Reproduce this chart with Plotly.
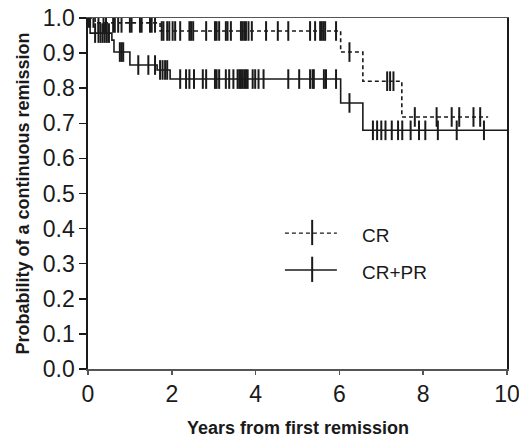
import plotly.graph_objects as go

# ---------------- data ----------------
# CR group (dashed curve)
cr_event_times = [0.17, 1.72, 6.03, 6.56, 7.49]
cr_surv = [0.986, 0.963, 0.903, 0.820, 0.718]
cr_end = 9.55
cr_censor = [0.05, 0.13, 0.25, 0.37, 0.43, 0.60, 0.64, 0.72, 0.80, 1.00, 1.04,
             1.24, 1.28, 1.48, 1.52, 1.60,
             1.76, 1.80, 1.89, 1.94, 2.02, 2.08, 2.20, 2.42, 2.46, 2.51, 2.82,
             3.03, 3.07, 3.13, 3.29, 3.33, 3.41, 3.65, 3.69, 3.73, 3.77, 3.83,
             3.91, 4.25, 4.53, 4.78, 5.30, 5.42, 5.54, 5.58, 5.62, 5.66, 5.92,
             6.24, 7.14, 7.21, 7.29, 7.80, 8.32, 8.68, 8.86, 9.20, 9.36]

# CR+PR group (solid curve)
crpr_event_times = [0.05, 0.57, 0.62, 1.00, 1.65, 1.96, 6.03, 6.56]
crpr_surv = [0.957, 0.937, 0.903, 0.866, 0.852, 0.826, 0.758, 0.680]
crpr_end = 10.0
crpr_censor = [0.02, 0.17, 0.25, 0.30, 0.35, 0.40, 0.45, 0.50,
               0.76, 0.80, 0.84, 1.20, 1.44, 1.60, 1.72, 1.78, 1.84, 1.89,
               2.20, 2.34, 2.42, 2.53, 2.74, 2.82, 3.03, 3.07, 3.13, 3.29,
               3.37, 3.47, 3.57, 3.61, 3.65, 3.69, 3.73, 3.77, 3.81, 3.93,
               3.99, 4.07, 4.19, 4.78, 5.04, 5.30, 5.36, 5.39, 5.63, 5.68,
               5.92, 6.24, 6.80, 6.90, 7.00, 7.10, 7.25, 7.40, 7.50, 7.70,
               7.90, 8.05, 8.35, 8.80, 9.45]

x_ticks = [0, 2, 4, 6, 8, 10]
y_ticks = [0.0, 0.1, 0.2, 0.3, 0.4, 0.5, 0.6, 0.7, 0.8, 0.9, 1.0]
series_names = ["CR", "CR+PR"]
x_title = "Years from first remission"
y_title = "Probability of a continuous remission"

# ---------------- helpers ----------------
def step_xy(times, surv, end):
    xs = [0.0] + list(times) + [end]
    ys = [1.0] + list(surv) + [surv[-1]]
    return xs, ys

def level_at(t, times, surv):
    lv = 1.0
    for et, s in zip(times, surv):
        if et <= t:
            lv = s
    return lv

FONT = "Liberation Sans, Arial, sans-serif"
INK = "#1a1a1a"

fig = go.Figure()

groups = [
    (cr_event_times, cr_surv, cr_end, cr_censor, "4px,3px"),
    (crpr_event_times, crpr_surv, crpr_end, crpr_censor, "solid"),
]
for (times, surv, end, cens, dash), name in zip(groups, series_names):
    xs, ys = step_xy(times, surv, end)
    fig.add_trace(go.Scatter(
        x=xs, y=ys, mode="lines", line_shape="hv", name=name,
        line=dict(color=INK, width=1.6, dash=dash), showlegend=False,
        hoverinfo="skip"))
    fig.add_trace(go.Scatter(
        x=cens, y=[level_at(t, times, surv) for t in cens], mode="markers",
        marker=dict(symbol="line-ns", size=14,
                    line=dict(color=INK, width=2)),
        showlegend=False, hoverinfo="skip"))

fig.update_layout(
    width=519, height=444,
    margin=dict(l=88, r=12, t=18, b=75, autoexpand=False),
    paper_bgcolor="white", plot_bgcolor="white",
    font=dict(family=FONT, color=INK),
    showlegend=False,
)
fig.update_xaxes(
    range=[0, 10], tickvals=x_ticks, ticktext=[str(v) for v in x_ticks],
    ticks="outside", ticklen=4, tickwidth=1.5, tickcolor="#555",
    showline=True, linecolor="#555", linewidth=1.5, mirror=True,
    showgrid=False, zeroline=False, automargin=False,
    ticklabeloverflow="allow",
    tickfont=dict(family=FONT, size=23, color=INK),
)
fig.update_yaxes(
    range=[0, 1.0], tickvals=y_ticks,
    ticktext=[f"{v:.1f}" for v in y_ticks],
    ticks="outside", ticklen=7, tickwidth=1.5, tickcolor=INK,
    showline=True, linecolor=INK, linewidth=1.6, mirror=True,
    showgrid=False, zeroline=False, automargin=False,
    ticklabeloverflow="allow",
    tickfont=dict(family=FONT, size=23, color=INK),
)

# axis titles
fig.add_annotation(text=f"<b>{x_title}</b>", xref="paper", yref="paper",
                   x=0.5, y=0, yshift=-59, showarrow=False,
                   xanchor="center", yanchor="middle",
                   font=dict(family=FONT, size=18, color=INK))
fig.add_annotation(text=f"<b>{y_title}</b>", xref="paper", yref="paper",
                   x=0, y=0.5, xshift=-66, showarrow=False, textangle=-90,
                   xanchor="center", yanchor="middle",
                   font=dict(family=FONT, size=18, color=INK))

# legend (drawn manually to match the long sample lines)
leg_rows = [(0.387, "4px,3px"), (0.282, "solid")]
for (ly, dash), name in zip(leg_rows, series_names):
    fig.add_shape(type="line", xref="x domain", yref="y domain",
                  x0=0.470, x1=0.594, y0=ly, y1=ly,
                  line=dict(color=INK, width=1.4, dash=dash))
    fig.add_shape(type="line", xref="x domain", yref="y domain",
                  x0=0.535, x1=0.535, y0=ly - 0.034, y1=ly + 0.038,
                  line=dict(color=INK, width=2))
    fig.add_annotation(text=name, xref="x domain", yref="y domain",
                       x=0.649, y=ly - 0.006, showarrow=False,
                       xanchor="left", yanchor="middle",
                       font=dict(family=FONT, size=19, color=INK))

# remove the browser's default 8px page margin so the figure sits at (0, 0)
fig.write_html(
    "out.html",
    config={"displayModeBar": False, "staticPlot": True},
    post_script="document.body.style.margin='0px';"
                "document.body.style.overflow='hidden';",
)
